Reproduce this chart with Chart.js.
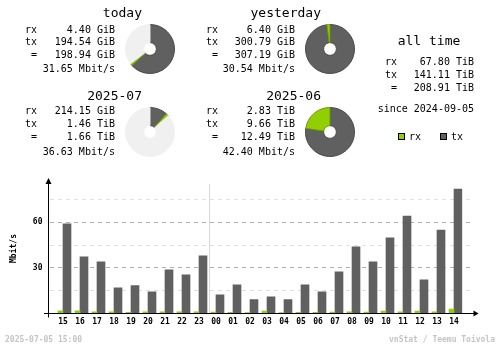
<!DOCTYPE html>
<html lang="en">
<head>
<meta charset="UTF-8">
<title>vnStat summary</title>
<style>
  html, body { margin: 0; padding: 0; background: #fff; }
  #wrap {
    position: relative;
    width: 500px;
    height: 348px;
    overflow: hidden;
    font-family: "DejaVu Sans Mono", monospace;
    color: #000;
  }
  #wrap canvas { position: absolute; }
  .t { position: absolute; white-space: pre; line-height: 1; font-size: 10px; }
  .title { font-size: 13px; }
  .foot { font-size: 8px; font-weight: bold; color: #c4c4c4; }
  .box { position: absolute; width: 5px; height: 5px; border: 1px solid #000; }
</style>
<script src="https://cdn.jsdelivr.net/npm/chart.js"></script>
</head>
<body>
<div id="wrap">
  <canvas id="hourly" width="500" height="348" style="left:0;top:0"></canvas>
</div>

<script>
// hourly rates, last 24 hours (Mbit/s)
const hours = ['15', '16', '17', '18', '19', '20', '21', '22', '23', '00', '01', '02',
               '03', '04', '05', '06', '07', '08', '09', '10', '11', '12', '13', '14'];
const rxMbit = [1.5, 1.4, 0.8, 0.7, 0.4, 0.7, 0.7, 0.7, 0.8, 0.6, 0.4, 0.3,
                1.2, 0.3, 0.4, 0.4, 0.6, 0.7, 0.6, 1.3, 0.7, 1.2, 0.7, 2.6];
const txMbit = [58.7, 37.0, 33.7, 16.6, 18.0, 14.0, 28.5, 25.2, 37.7, 12.0, 18.6, 8.8,
                10.7, 8.8, 18.6, 14.0, 27.2, 43.6, 33.7, 49.5, 63.9, 21.9, 54.7, 81.7];

// summary blocks
const periods = ['today', 'yesterday', '2025-07', '2025-06'];
const rxText = ['4.40 GiB', '6.40 GiB', '214.15 GiB', '2.83 TiB'];
const txText = ['194.54 GiB', '300.79 GiB', '1.46 TiB', '9.66 TiB'];
const totalText = ['198.94 GiB', '307.19 GiB', '1.66 TiB', '12.49 TiB'];
const rateText = ['31.65 Mbit/s', '30.54 Mbit/s', '36.63 Mbit/s', '42.40 Mbit/s'];
// same amounts in GiB, for the pies
const rxGiB = [4.40, 6.40, 214.15, 2.83 * 1024];
const txGiB = [194.54, 300.79, 1.46 * 1024, 9.66 * 1024];
const totalGiB = [198.94, 307.19, 1.66 * 1024, 12.49 * 1024];

const allTimeLabels = ['rx', 'tx', ' ='];
const allTimeValues = ['67.80 TiB', '141.11 TiB', '208.91 TiB'];
const sinceDate = '2024-09-05';
const stamp = '2025-07-05 15:00';
const credit = 'vnStat / Teemu Toivola';

const RX = '#92cf00';
const TX = '#606060';

const wrap = document.getElementById('wrap');

function text(str, x, y, cls, align) {
  const el = document.createElement('div');
  el.className = 't' + (cls ? ' ' + cls : '');
  el.textContent = str;
  el.style.left = x + 'px';
  el.style.top = y + 'px';
  const tx = align === 'right' ? '-100%' : align === 'center' ? '-50%' : '0';
  el.style.transform = 'translate(' + tx + ',-50%)';
  wrap.appendChild(el);
}

function pie(cx, cy, tx, rx, rest) {
  const c = document.createElement('canvas');
  c.width = 50;
  c.height = 50;
  c.style.left = (cx - 25) + 'px';
  c.style.top = (cy - 25) + 'px';
  wrap.appendChild(c);
  new Chart(c, {
    type: 'doughnut',
    data: {
      datasets: [{
        data: [tx, rx, rest],
        backgroundColor: [TX, RX, '#f0f0f0'],
        borderColor: ['#4a4a4a', '#6c9c00', '#f0f0f0'],
        borderWidth: 1
      }]
    },
    options: {
      responsive: false,
      animation: false,
      events: [],
      cutout: '26%',
      plugins: { legend: { display: false }, tooltip: { enabled: false } }
    }
  });
}

// four period blocks: title right edge, label column, value right edge, pie centre
const blocks = [
  { titleRight: 142, top: 12, rows: [29.5, 42, 55, 69], left: 25, right: 115, pie: [150, 49] },
  { titleRight: 321, top: 12, rows: [29.5, 42, 55, 69], left: 206, right: 295, pie: [330, 49] },
  { titleRight: 142, top: 94.5, rows: [111, 124, 137, 152], left: 25, right: 115, pie: [150, 132] },
  { titleRight: 321, top: 94.5, rows: [111, 124, 137, 152], left: 206, right: 295, pie: [330, 132] }
];

blocks.forEach((b, i) => {
  text(periods[i], b.titleRight, b.top, 'title', 'right');
  text('rx', b.left, b.rows[0]);
  text('tx', b.left, b.rows[1]);
  text(' =', b.left, b.rows[2]);
  text(rxText[i], b.right, b.rows[0], '', 'right');
  text(txText[i], b.right, b.rows[1], '', 'right');
  text(totalText[i], b.right, b.rows[2], '', 'right');
  text(rateText[i], b.right, b.rows[3], '', 'right');
  // pies compare a period against its neighbour (today/yesterday, month/month)
  const pair = i < 2 ? [0, 1] : [2, 3];
  const full = Math.max(totalGiB[pair[0]], totalGiB[pair[1]]);
  pie(b.pie[0], b.pie[1], txGiB[i], rxGiB[i], Math.max(full - rxGiB[i] - txGiB[i], 0));
});

// all time column
text('all time', 429, 39.5, 'title', 'center');
const allRows = [62, 75, 88];
allTimeLabels.forEach((l, i) => {
  text(l, 385, allRows[i]);
  text(allTimeValues[i], 474, allRows[i], '', 'right');
});
text('since ' + sinceDate, 474, 108.5, '', 'right');

// legend
[[RX, 398, 'rx'], [TX, 440, 'tx']].forEach(([col, x, name]) => {
  const sq = document.createElement('div');
  sq.className = 'box';
  sq.style.background = col;
  sq.style.left = x + 'px';
  sq.style.top = '133px';
  wrap.appendChild(sq);
  text(name, x + 11, 136.5);
});

// footer
text(stamp, 5, 340, 'foot');
text(credit, 495, 340, 'foot', 'right');

// dashed grid, day separator and arrowed axes
const frame = {
  id: 'frame',
  beforeDatasetsDraw(chart) {
    const { ctx, chartArea: a, scales: { x, y } } = chart;
    const zero = Math.round(y.getPixelForValue(0)) + 0.5;
    const axisX = a.left - 6;
    ctx.save();
    ctx.lineWidth = 1;
    ctx.setLineDash([4, 4]);
    y.ticks.forEach(t => {
      if (t.value === 0) return;
      const py = Math.round(y.getPixelForValue(t.value)) + 0.5;
      ctx.strokeStyle = t.value % 30 === 0 ? '#b0b0b0' : '#e0e0e0';
      ctx.beginPath();
      ctx.moveTo(axisX + 1.5, py);
      ctx.lineTo(a.right + 10, py);
      ctx.stroke();
    });
    ctx.setLineDash([]);

    // midnight marker
    const i = hours.indexOf('00');
    const mx = Math.floor((x.getPixelForValue(i - 1) + x.getPixelForValue(i)) / 2) + 2.5;
    ctx.strokeStyle = '#d8d8d8';
    ctx.beginPath();
    ctx.moveTo(mx, a.top);
    ctx.lineTo(mx, zero);
    ctx.stroke();
    ctx.restore();
  },
  afterDatasetsDraw(chart) {
    const { ctx, chartArea: a, scales: { y } } = chart;
    const zero = Math.round(y.getPixelForValue(0)) + 0.5;
    const axisX = a.left - 6;
    ctx.save();
    ctx.strokeStyle = '#000';
    ctx.fillStyle = '#000';
    ctx.lineWidth = 1;
    ctx.beginPath();
    ctx.moveTo(axisX, a.top - 4);
    ctx.lineTo(axisX, zero + 4);
    ctx.moveTo(axisX - 4.5, zero);
    ctx.lineTo(a.right + 14, zero);
    ctx.stroke();
    ctx.beginPath();
    ctx.moveTo(axisX, a.top - 6);
    ctx.lineTo(axisX - 3, a.top);
    ctx.lineTo(axisX + 3, a.top);
    ctx.closePath();
    ctx.fill();
    ctx.beginPath();
    ctx.moveTo(a.right + 16, zero);
    ctx.lineTo(a.right + 11, zero - 3);
    ctx.lineTo(a.right + 11, zero + 3);
    ctx.closePath();
    ctx.fill();
    ctx.restore();
  }
};

const tickFont = { family: '"DejaVu Sans Mono", monospace', size: 8, weight: 'bold' };

new Chart(document.getElementById('hourly'), {
  type: 'bar',
  data: {
    labels: hours,
    datasets: [
      { label: 'rx', data: rxMbit, backgroundColor: RX, barThickness: 5 },
      { label: 'tx', data: txMbit, backgroundColor: TX, barThickness: 8 }
    ]
  },
  options: {
    responsive: false,
    animation: false,
    events: [],
    layout: { padding: { top: 184, right: 37.5, left: 0, bottom: 0 } },
    plugins: { legend: { display: false }, tooltip: { enabled: false } },
    scales: {
      x: {
        grid: { display: false, drawTicks: false },
        border: { display: false },
        ticks: { font: tickFont, color: '#000', padding: 4, maxRotation: 0, autoSkip: false },
        afterFit(s) { s.height = 35; }
      },
      y: {
        min: 0,
        max: 85,
        grid: { display: false, drawTicks: false },
        border: { display: false },
        ticks: {
          stepSize: 15,
          padding: 12,
          font: tickFont,
          color: '#000',
          callback: v => (v > 0 && v % 30 === 0) ? v : ''
        },
        afterBuildTicks(s) { s.ticks = s.ticks.filter(t => t.value % 15 === 0); },
        title: { display: true, text: 'Mbit/s', font: tickFont, color: '#000', padding: { top: 9.5, bottom: 0 } },
        afterFit(s) { s.width = 54.5; }
      }
    }
  },
  plugins: [frame]
});
</script>
</body>
</html>
